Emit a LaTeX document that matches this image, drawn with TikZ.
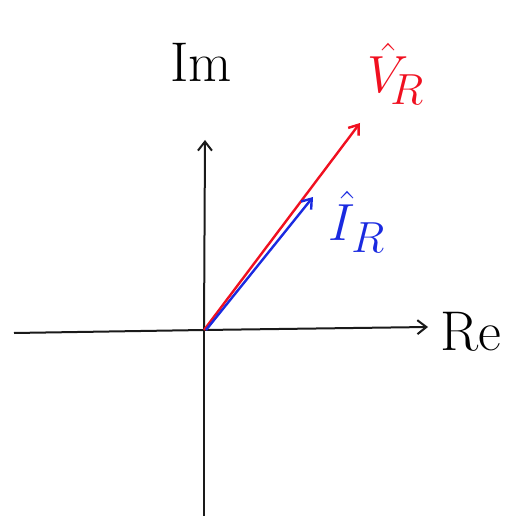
\documentclass[tikz,border=0pt]{standalone}
\usepackage{amsmath,amssymb}
\usepackage{graphicx}
\usepackage{tikz}
\usetikzlibrary{arrows.meta,positioning}
\definecolor{ink}{HTML}{1A1A1A}
\definecolor{volt}{HTML}{F01020}
\definecolor{curr}{HTML}{1A2AE0}
\tikzset{
  axis/.style={ink,line width=2pt,-{Straight Barb[length=9pt,width=14pt]}},
  phasor/.style={line width=2.4pt,-{Straight Barb[length=9pt,width=13pt]}},
  big/.style={font=\fontsize{56}{58}\selectfont,inner sep=0pt},
}
\newcommand{\bigmath}[1]{\scalebox{2.1}{\fontsize{24.88}{26}\selectfont$#1$}}

\begin{document}
\begin{tikzpicture}[x=1pt,y=-1pt]
  \useasboundingbox (0,0) rectangle (517,516);
  % ---------- axes ----------
  \coordinate (O) at (204,330);
  \coordinate (west) at (14,333);
  \coordinate (east) at (428,327);
  \coordinate (south) at (204,516);
  \coordinate (north) at (205,140);
  \draw[ink,line width=2pt] (west) -- (O);
  \draw[axis] (O) -- (east);
  \draw[ink,line width=2pt] (south) -- (O);
  \draw[axis] (O) -- (north);
  \node[big,anchor=west] (re) at (440,332) {Re};
  \node[big] (im) at (201,62) {Im};
  % ---------- phasors ----------
  \coordinate (vtip) at (360,123);
  \coordinate (itip) at (313,197);
  \draw[phasor,volt] (O) -- (vtip);
  \draw[phasor,curr] ([xshift=2pt]O) -- (itip);
  \node[inner sep=0pt,volt] (vr) at (396,74) {\bigmath{\hat{V}_{\!R}}};
  \node[inner sep=0pt,curr] (ir) at (357,222) {\bigmath{\hat{I}_{R}}};
\end{tikzpicture}
\end{document}
